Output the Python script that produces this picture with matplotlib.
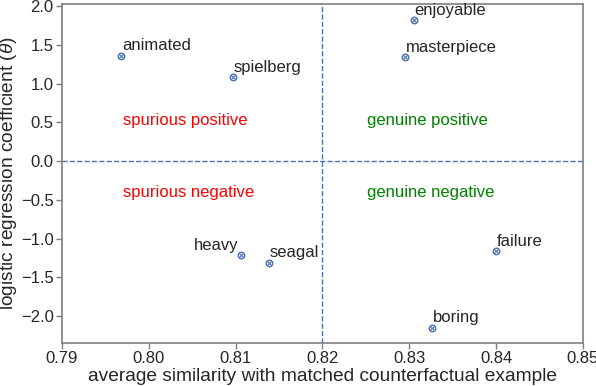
import matplotlib
matplotlib.use("Agg")
import matplotlib.pyplot as plt

plt.rcParams['font.family'] = ['Liberation Sans', 'DejaVu Sans']
plt.rcParams['mathtext.fontset'] = 'custom'
plt.rcParams['mathtext.it'] = 'Liberation Sans:italic'

words = ["animated", "spielberg", "enjoyable", "masterpiece",
         "heavy", "seagal", "failure", "boring"]
similarity = [0.7968, 0.8097, 0.8305, 0.8295, 0.8106, 0.8138, 0.8400, 0.8326]
coef = [1.36, 1.08, 1.82, 1.34, -1.21, -1.31, -1.16, -2.15]

quadrants = ["spurious positive", "genuine positive", "spurious negative", "genuine negative"]
quad_x = [0.797, 0.8251, 0.797, 0.8251]
quad_y = [0.52, 0.52, -0.40, -0.40]
quad_col = ["red", "green", "red", "green"]

blue = "#4c72b0"
txt = "#262626"

fig = plt.figure(figsize=(5.96, 3.86), dpi=100)
ax = fig.add_axes([0.104, 0.111, 0.874, 0.879])

ax.scatter(similarity, coef, s=22, facecolor="white", edgecolor=blue, linewidth=1.0, zorder=3)
ax.scatter(similarity, coef, s=10, marker="x", color=blue, linewidth=0.8, zorder=4)

for w, x, y in zip(words, similarity, coef):
    if w == "heavy":
        ax.text(x - 0.0003, y + 0.03, w, ha="right", va="bottom", fontsize=12, color=txt)
    else:
        ax.text(x + 0.0001, y + 0.03, w, ha="left", va="bottom", fontsize=12, color=txt)

for q, x, y, c in zip(quadrants, quad_x, quad_y, quad_col):
    ax.text(x, y, q, ha="left", va="center", fontsize=12, color=c)

ax.axvline(0.82, color=blue, linestyle="--", linewidth=1.0, zorder=1)
ax.axhline(0.0, color=blue, linestyle="--", linewidth=1.0, zorder=1)

ax.set_xlim(0.79, 0.85)
ax.set_ylim(-2.35, 2.03)
ax.set_xticks([0.79, 0.80, 0.81, 0.82, 0.83, 0.84, 0.85])
ax.set_xticklabels(["0.79", "0.80", "0.81", "0.82", "0.83", "0.84", "0.85"])
ax.set_yticks([-2.0, -1.5, -1.0, -0.5, 0.0, 0.5, 1.0, 1.5, 2.0])
ax.set_yticklabels(["\u22122.0", "\u22121.5", "\u22121.0", "\u22120.5", "0.0", "0.5", "1.0", "1.5", "2.0"])

for s in ax.spines.values():
    s.set_color("#7f7f7f")
    s.set_linewidth(1.2)
ax.tick_params(colors="#7f7f7f", labelcolor=txt, labelsize=12, length=4, width=1, pad=2)

ax.set_xlabel("average similarity with matched counterfactual example", fontsize=13.8, color=txt, labelpad=1)
ax.set_ylabel(r"logistic regression coefficient ($\theta$)", fontsize=13.8, color=txt, labelpad=1)

fig.savefig("out.png", dpi=100)
